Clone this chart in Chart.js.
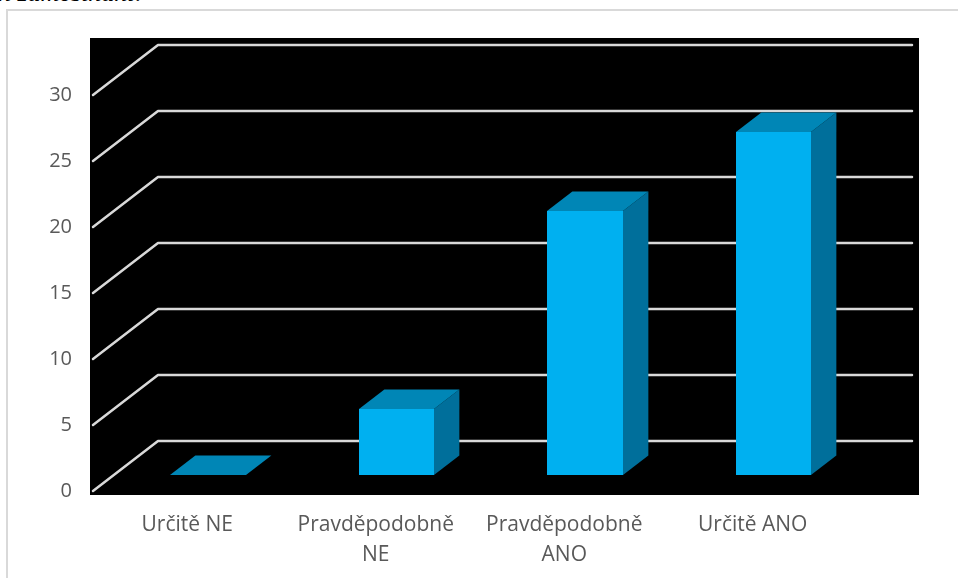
<!DOCTYPE html>
<html>
<head>
<meta charset="utf-8">
<script src="https://cdn.jsdelivr.net/npm/chart.js@4/dist/chart.umd.min.js"></script>
<style>
  html, body { margin: 0; padding: 0; background: #fff; overflow: hidden; }
  body { width: 958px; height: 578px; position: relative; }
  .caption {
    position: absolute; left: -2px; top: -22px;
    font: italic 26px "Liberation Serif", serif; color: #000; white-space: nowrap;
  }
  .frame {
    position: absolute; left: 6px; top: 9px; width: 1000px; height: 600px;
    border-left: 2px solid #d9d9d9; border-top: 2px solid #d9d9d9;
  }
  #wrap { position: absolute; left: 0; top: 0; width: 958px; height: 578px; }
</style>
</head>
<body>
<div class="caption">n zaměstnání:</div>
<div class="frame"></div>
<div id="wrap"><canvas id="chart"></canvas></div>
<script>
const categories = [['Určitě NE'], ['Pravděpodobně', 'NE'], ['Pravděpodobně', 'ANO'], ['Určitě ANO']];
const answers = [0, 5, 20, 26];
const yTicks = [0, 5, 10, 15, 20, 25, 30];

// depth vector of the floor, and where the bars sit inside it
const DEPTH = { dx: 65, dy: -50, front: 0.32, back: 0.71 };
const COLORS = { front: '#00b0f0', top: '#0086b6', side: '#006f9b', grid: '#d9d9d9' };

const fake3d = {
  id: 'fake3d',
  beforeDatasetsDraw(chart) {
    const { ctx, chartArea: a, scales: { y } } = chart;
    ctx.save();
    ctx.fillStyle = '#000';
    ctx.fillRect(a.left - 3, a.top - 57, a.right - a.left + 75, a.bottom - a.top + 61);

    ctx.strokeStyle = COLORS.grid;
    ctx.lineWidth = 2.5;
    ctx.lineCap = 'round';
    ctx.lineJoin = 'round';
    yTicks.forEach(v => {
      const py = y.getPixelForValue(v);
      ctx.beginPath();
      ctx.moveTo(a.left, py);
      ctx.lineTo(a.left + DEPTH.dx, py + DEPTH.dy);
      ctx.lineTo(a.right + DEPTH.dx, py + DEPTH.dy);
      ctx.stroke();
    });
    ctx.restore();
  },
  afterDatasetsDraw(chart) {
    const { ctx } = chart;
    const meta = chart.getDatasetMeta(0);
    const fx = DEPTH.dx * DEPTH.front, fy = DEPTH.dy * DEPTH.front;
    const bx = DEPTH.dx * (DEPTH.back - DEPTH.front), by = DEPTH.dy * (DEPTH.back - DEPTH.front);
    ctx.save();
    meta.data.forEach(bar => {
      const { x, y, base, width } = bar.getProps(['x', 'y', 'base', 'width'], true);
      const l = Math.round(x - width / 2 + fx), r = Math.round(x + width / 2 + fx);
      const t = Math.round(y + fy), b = Math.round(base + fy);

      // side face
      ctx.fillStyle = COLORS.side;
      ctx.beginPath();
      ctx.moveTo(r, t); ctx.lineTo(r + bx, t + by); ctx.lineTo(r + bx, b + by); ctx.lineTo(r, b);
      ctx.closePath(); ctx.fill();

      // top face
      ctx.fillStyle = COLORS.top;
      ctx.beginPath();
      ctx.moveTo(l, t); ctx.lineTo(l + bx, t + by); ctx.lineTo(r + bx, t + by); ctx.lineTo(r, t);
      ctx.closePath(); ctx.fill();

      // front face
      if (b - t > 0.5) {
        ctx.fillStyle = COLORS.front;
        ctx.fillRect(l, t, r - l, b - t);
      }
    });
    ctx.restore();
  }
};

new Chart(document.getElementById('chart'), {
  type: 'bar',
  data: {
    labels: categories,
    datasets: [{
      data: answers,
      backgroundColor: 'rgba(0,0,0,0)',
      categoryPercentage: 1,
      barPercentage: 0.4
    }]
  },
  options: {
    responsive: true,
    maintainAspectRatio: false,
    animation: false,
    events: [],
    layout: { padding: { top: 95, right: 111, left: 0, bottom: 0 } },
    plugins: { legend: { display: false }, tooltip: { enabled: false } },
    scales: {
      x: {
        grid: { display: false },
        border: { display: false },
        ticks: {
          color: '#595959',
          font: { family: '"Open Sans", sans-serif', size: 21, lineHeight: 1.43 },
          padding: 11,
          maxRotation: 0
        },
        afterFit(scale) { scale.height = 87; }
      },
      y: {
        min: 0,
        max: 30,
        grid: { display: false },
        border: { display: false },
        ticks: {
          stepSize: 5,
          color: '#595959',
          font: { family: '"Open Sans", sans-serif', size: 20 },
          padding: 13
        },
        afterFit(scale) { scale.width = 93; }
      }
    }
  },
  plugins: [fake3d]
});
</script>
</body>
</html>
